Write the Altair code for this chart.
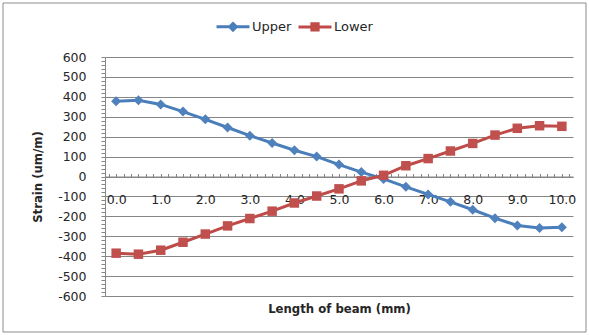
import altair as alt
import pandas as pd

# ---- data ----
positions = [i * 0.5 for i in range(21)]
upper = [378, 383, 362, 326, 287, 246, 205, 168, 132, 100, 60, 22,
         -12, -52, -90, -127, -167, -209, -246, -259, -255]
lower = [-385, -390, -370, -330, -289, -248, -211, -174, -133, -98, -62, -22,
         6, 54, 90, 128, 166, 208, 242, 255, 252]
series_names = ["Upper", "Lower"]
line_colors = ["#4A7EBB", "#BE4B48"]
marker_colors = ["#4F81BD", "#C0504D"]

df = pd.DataFrame({
    "x": positions + positions,
    "y": upper + lower,
    "series": ["Upper"] * len(upper) + ["Lower"] * len(lower),
})

W, H = 468, 239
FONT = "DejaVu Sans"
GRAY = "#868686"
TXT = "#262626"

xscale = alt.Scale(domain=[-0.25, 10.25], nice=False, zero=False)
yscale = alt.Scale(domain=[-600, 600], nice=False)

x_vals = [k / 6 for k in range(-1, 62)]
y_vals = list(range(-600, 601, 20))

# x axis sits on the zero line (top orient pushed down), ticks point up, labels below
xaxis = alt.Axis(
    orient="top",
    values=x_vals,
    labelExpr="abs(datum.value - round(datum.value)) < 1e-6 ? format(datum.value, '.1f') : ''",
    offset=-H / 2,
    grid=False,
    domainColor=GRAY, tickColor=GRAY, tickSize=3,
    labelPadding=-20, labelBaseline="top",
    labelFont=FONT, labelFontSize=12.5, labelColor=TXT,
    labelOverlap=False, labelFlush=False,
    title="Length of beam (mm)", titleFont=FONT, titleFontSize=11.7,
    titleFontWeight="bold", titleColor=TXT, titleBaseline="middle",
    titleX=W / 2, titleY=131.5, titleAlign="center",
)
yaxis = alt.Axis(
    values=y_vals,
    labelExpr="datum.value % 100 === 0 ? '' + datum.value : ''",
    grid=True, gridColor=GRAY, gridWidth=1,
    gridOpacity={"condition": {"test": "datum.value % 100 === 0", "value": 1}, "value": 0},
    domainColor=GRAY, tickColor=GRAY, tickSize=4,
    labelPadding=15, labelFont=FONT, labelFontSize=12.5, labelColor=TXT,
    labelOverlap=False, labelFlush=False,
    title="Strain (um/m)", titleFont=FONT, titleFontSize=11.7,
    titleFontWeight="bold", titleColor=TXT, titleBaseline="middle",
    titleX=-68, titleY=H / 2, titleAngle=-90,
)

base = alt.Chart(df)

def X():
    return alt.X("x:Q", scale=xscale, axis=xaxis)

def Y():
    return alt.Y("y:Q", scale=yscale, axis=yaxis)

border = alt.Chart(alt.InlineData(values=[{"a": 1}])).mark_rect(
    filled=False, stroke="#8C8C8C", strokeWidth=1
).encode(
    x=alt.value(-102), x2=alt.value(W + 13),
    y=alt.value(-54), y2=alt.value(H + 36),
)

def series_layers(name, lc, mc, shape, size):
    d = base.transform_filter(alt.datum.series == name)
    ln = d.mark_line(strokeWidth=3, color=lc).encode(
        x=X(), y=Y(), order="x:Q",
    )
    pt = d.mark_point(filled=True, shape=shape, size=size, color=mc, opacity=1).encode(
        x=X(), y=Y(),
    )
    return ln + pt

upper_layers = series_layers("Upper", line_colors[0], marker_colors[0], "diamond", 100)
lower_layers = series_layers("Lower", line_colors[1], marker_colors[1], "square", 90)

path_u = "M-1,0H1M0,-0.2L0.2,0L0,0.2L-0.2,0Z"
path_l = "M-1,0H1M-0.19,-0.19H0.19V0.19H-0.19Z"
leg = alt.Legend(
    title=None, orient="none", legendX=110, legendY=-48.5, direction="horizontal",
    symbolSize=1089, symbolStrokeWidth=3, symbolOpacity=1, labelFont=FONT, labelFontSize=13,
    labelColor=TXT, labelOffset=1, columnPadding=0, padding=0,
)
legend_layer = base.transform_filter("datum.x > 100").mark_point(
    filled=True, strokeWidth=3, opacity=1
).encode(
    x=X(), y=Y(),
    fill=alt.Fill("series:N", scale=alt.Scale(domain=series_names, range=line_colors), legend=leg),
    stroke=alt.Stroke("series:N", scale=alt.Scale(domain=series_names, range=line_colors), legend=leg),
    shape=alt.Shape("series:N", scale=alt.Scale(domain=series_names, range=[path_u, path_l]), legend=leg),
)

chart = alt.layer(upper_layers, lower_layers, legend_layer, border).properties(
    width=W, height=H,
    padding={"left": 105, "top": 57, "right": 16, "bottom": 39},
    autosize="none", background="white",
).configure_view(strokeWidth=0)

chart.save("out.html", embed_options={"renderer": "svg", "actions": False})
